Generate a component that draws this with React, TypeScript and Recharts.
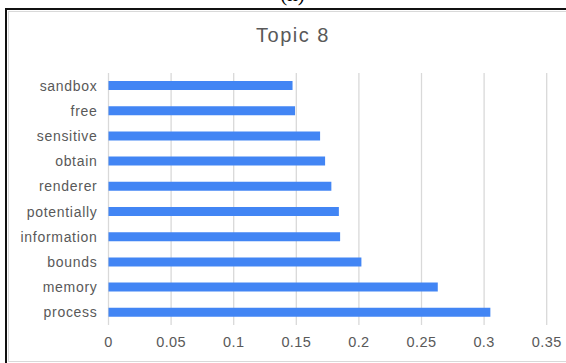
import React from "react";
import { BarChart, Bar, XAxis, YAxis, CartesianGrid } from "recharts";

// Term weights for Topic 8, listed top to bottom
const terms = [
  "sandbox",
  "free",
  "sensitive",
  "obtain",
  "renderer",
  "potentially",
  "information",
  "bounds",
  "memory",
  "process",
];
const weights = [0.147, 0.149, 0.169, 0.173, 0.178, 0.184, 0.185, 0.202, 0.263, 0.305];
const xTicks = [0, 0.05, 0.1, 0.15, 0.2, 0.25, 0.3, 0.35];
const xTickLabels = ["0", "0.05", "0.1", "0.15", "0.2", "0.25", "0.3", "0.35"];

const rows = terms.map((name, i) => ({ name, value: weights[i] }));

const W = 566;
const H = 363;
const textColor = "#595959";
const font = "'Liberation Sans', Arial, sans-serif";

export default function App() {
  return (
    <div
      style={{
        position: "absolute",
        left: 0,
        top: 0,
        width: W,
        height: H,
        overflow: "hidden",
        background: "#ffffff",
      }}
    >
      {/* caption of the panel above the frame */}
      <svg
        width={W}
        height={20}
        style={{ position: "absolute", left: 0, top: 0 }}
      >
        <text
          x={292.5}
          y={0.5}
          textAnchor="middle"
          fontFamily="'Liberation Serif', 'Times New Roman', serif"
          fontSize={21}
          fill="#000"
        >
          (h)
        </text>
      </svg>
      {/* outer frame lines */}
      <div
        style={{
          position: "absolute",
          left: 5,
          top: 8,
          width: W - 5,
          height: 2,
          background: "#111",
        }}
      />
      <div
        style={{
          position: "absolute",
          left: 5,
          top: 8,
          width: 2,
          height: H - 8,
          background: "#111",
        }}
      />
      {/* chart border */}
      <div
        style={{
          position: "absolute",
          left: 8,
          top: 11,
          width: 620,
          height: 349,
          border: "1px solid #d9d9d9",
        }}
      />
      <div
        style={{
          position: "absolute",
          left: 0,
          top: 23,
          width: 586,
          textAlign: "center",
          fontFamily: font,
          fontSize: 20,
          letterSpacing: 1.5,
          color: textColor,
          lineHeight: "24px",
        }}
      >
        Topic 8
      </div>
      <div style={{ position: "absolute", left: 0, top: 0 }}>
        <BarChart
          width={W}
          height={H}
          data={rows}
          layout="vertical"
          margin={{ top: 73, right: 19.3, bottom: 8, left: 0 }}
          barCategoryGap={0}
        >
          <CartesianGrid
            horizontal={false}
            vertical={true}
            stroke="#d9d9d9"
            strokeWidth={1.3}
          />
          <XAxis
            type="number"
            domain={[0, 0.35]}
            ticks={xTicks}
            tickFormatter={(v: number) => xTickLabels[xTicks.indexOf(v)] ?? String(v)}
            axisLine={false}
            tickLine={false}
            tickMargin={6}
            height={30}
            tick={{
              fill: textColor,
              fontSize: 14.5,
              fontFamily: font,
              letterSpacing: 0.4,
            }}
            interval={0}
          />
          <YAxis
            type="category"
            dataKey="name"
            width={108.5}
            axisLine={false}
            tickLine={false}
            tickMargin={5}
            interval={0}
            tick={{
              fill: textColor,
              fontSize: 14,
              fontFamily: font,
              letterSpacing: 0.7,
            }}
          />
          <Bar
            dataKey="value"
            fill="#4285F4"
            barSize={9}
            isAnimationActive={false}
          />
        </BarChart>
      </div>
    </div>
  );
}
